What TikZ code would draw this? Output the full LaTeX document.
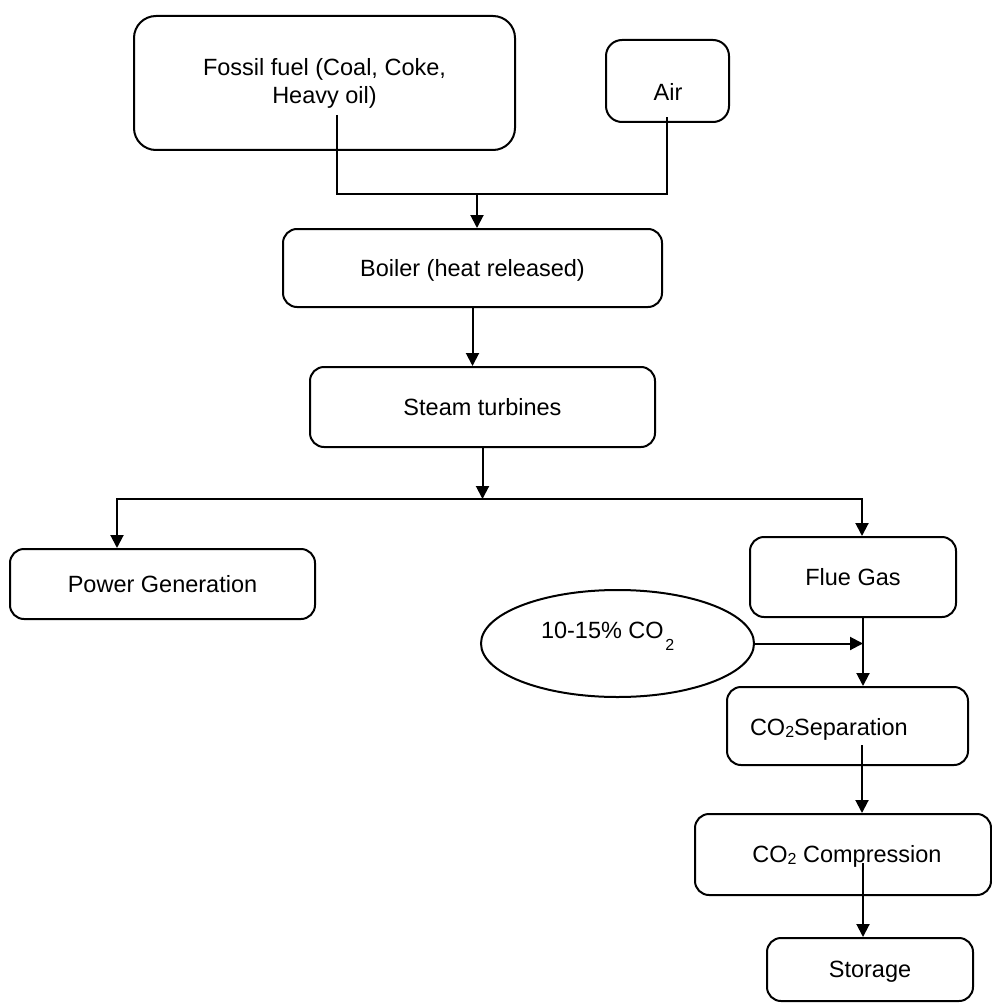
\documentclass[tikz,border=0pt]{standalone}
\usepackage{fontspec}
\setmainfont{Liberation Sans}
\usetikzlibrary{arrows.meta,shapes.geometric}

% small lowered "2" used in the CO2 labels
\newcommand\lowtwo[1][2pt]{\raisebox{-#1}{\fontsize{16}{16}\selectfont 2}}

\begin{document}
\begin{tikzpicture}[x=1pt,y=-1pt,
  line width=2pt,
  every node/.style={font=\fontsize{23.5}{28}\selectfont},
  frame/.style={draw, rounded corners=14pt, inner sep=0pt},
  box/.style={frame, text height=16.8pt, text depth=0pt},
  lbl/.style={inner sep=0pt, anchor=base west},
  flow/.style={-{Triangle[width=13pt,length=13pt]}}
]
\fill[white] (0,0) rectangle (992,1003);

% process boxes
\node[frame, rounded corners=22pt, align=center, minimum width=381pt, minimum height=134pt]
  (fuel) at (324.5,83) {Fossil fuel (Coal, Coke,\\Heavy oil)};
\node[frame, rounded corners=16pt, minimum width=123pt, minimum height=82pt] (air) at (667.5,81) {};
\node[lbl, anchor=base] (airtext) at (668,101) {Air};

\node[box, minimum width=379pt, minimum height=78pt] (boiler) at (472.5,268) {Boiler (heat released)};
\node[box, minimum width=345pt, minimum height=80pt] (turb) at (482.5,407) {Steam turbines};
\node[box, minimum width=305pt, minimum height=70pt] (power) at (162.5,584) {Power Generation};
\node[box, minimum width=206pt, minimum height=80pt] (flue) at (853,577) {Flue Gas};

\node[draw, ellipse, inner sep=0pt, minimum width=273pt, minimum height=107pt] (co2) at (617.5,643.5) {};
\node[lbl] (co2text) at (540,638) {10-15\% CO\hspace{1.5pt}\lowtwo[12pt]};

\node[frame, minimum width=241pt, minimum height=78pt] (sep) at (847.5,726) {};
\node[lbl] (septext) at (749,735) {CO\lowtwo{}Separation};

\node[box, minimum width=296pt, minimum height=81pt] (comp) at (843,854.5) {\hspace{8pt}CO\lowtwo{} Compression};
\node[box, minimum width=206pt, minimum height=63pt] (store) at (870,969.5) {Storage};

% connector anchors
\coordinate (fuelout) at (337,115);
\coordinate (airout) at (667,117);
\coordinate (merge) at (477,194);
\coordinate (split) at (482.5,499);
\coordinate (pdrop) at (117,0);
\coordinate (fdrop) at (862,0);
\coordinate (cx) at (863,0);
\coordinate (sepout) at (862,745);
\coordinate (compout) at (863,863);

% connectors
\draw (fuelout) |- (airout |- merge) -- (airout);
\draw[flow] (merge) -- (merge |- boiler.north);
\draw[flow] (boiler.south) -- (boiler.south |- turb.north);
\draw[flow] (turb.south) -- (split);
\draw[flow] (split) -| (power.north -| pdrop);
\draw[flow] (split) -| (flue.north -| fdrop);
\draw[flow] (flue.south -| cx) -- (sep.north -| cx);
\draw[flow] (co2.east) -- (co2.east -| cx);
\draw[flow] (sepout) -- (sepout |- comp.north);
\draw[flow] (compout) -- (compout |- store.north);
\end{tikzpicture}
\end{document}
